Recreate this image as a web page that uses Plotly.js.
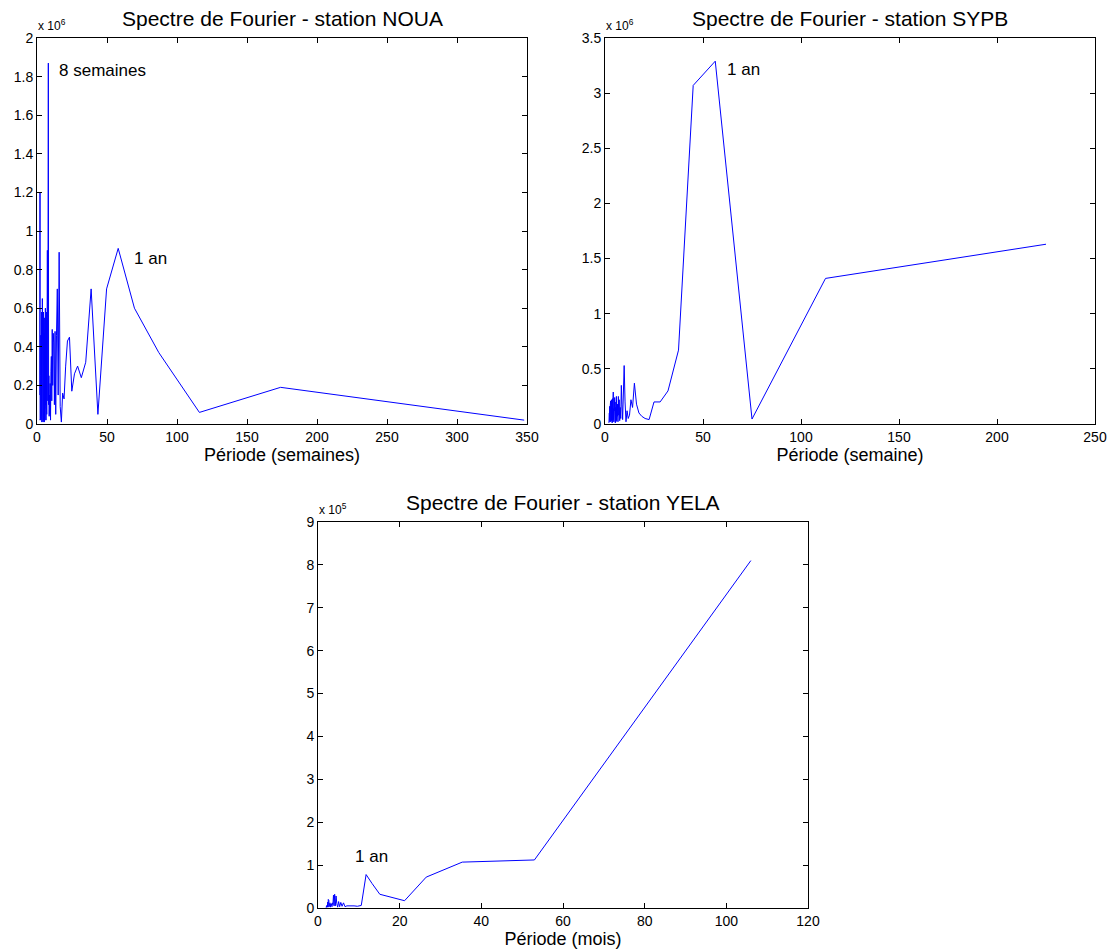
<!DOCTYPE html>
<html>
<head>
<meta charset="utf-8">
<script src="https://cdn.plot.ly/plotly-3.0.1.min.js"></script>
<style>html,body{margin:0;padding:0;background:#fff}#chart{width:1110px;height:952px}</style>
</head>
<body>
<div id="chart"></div>
<script>
// NOUA: period (weeks) and amplitude (x 1e6)
const nouaPeriod = [348,174,116,87,69.6,58,49.71,43.5,38.67,34.8,31.64,29,26.77,24.86,23.2,21.75,20.47,19.33,18.32,17.4,16.57,15.82,15.13,14.5,13.92,13.38,12.89,12.43,12,11.6,11.23,10.88,10.55,10.24,9.94,9.67,9.41,9.16,8.92,8.7,8.49,8.29,8.09,7.91,7.73,7.57,7.4,7.25,7.1,6.96,6.82,6.69,6.57,6.44,6.33,6.21,6.11,6.0,5.9,5.8,
  5.75,5.7,5.65,5.6,5.55,5.5,5.44,5.38,5.32,5.26,5.2,5.14,5.08,5.02,4.96,4.9,4.84,4.78,4.72,4.66,4.6,4.54,4.48,4.42,4.36,4.3,4.24,4.18,4.12,4.06,4.0,3.94,3.88,3.82,3.76,3.7,3.64,3.58,3.52,3.46,3.4,3.34,3.28,3.22,3.16,3.1,3.04,2.98,2.92,2.86,2.8,2.74,2.68,2.62,2.56,2.5,2.44,2.38,2.32,2.26,2.2,2.14,2.08,2.02];
const nouaAmp = [0.02,0.19,0.06,0.37,0.60,0.91,0.70,0.05,0.70,0.32,0.24,0.30,0.26,0.17,0.45,0.43,0.30,0.13,0.16,0.01,0.09,0.89,0.15,0.70,0.46,0.05,0.48,0.10,0.42,0.47,0.20,0.49,0.12,0.35,0.27,0.02,0.21,0.05,0.15,0.04,0.25,0.10,1.87,0.30,0.12,0.55,0.90,0.20,0.48,0.05,0.58,0.15,0.40,0.02,0.35,0.25,0.10,0.60,0.03,0.30,
  0.05,0.42,0.02,0.30,0.08,0.55,0.03,0.25,0.12,0.38,0.01,0.33,0.06,0.47,0.10,0.22,0.02,0.35,0.15,0.58,0.04,0.28,0.09,0.40,0.01,0.31,0.18,0.49,0.03,0.26,0.07,0.36,0.12,0.65,0.02,0.30,0.06,0.44,0.15,0.24,0.01,0.38,0.08,0.58,0.04,0.28,0.11,0.45,0.02,0.34,0.07,0.46,0.14,0.25,0.03,0.90,0.05,0.33,0.09,0.58,0.02,1.20,0.06,0.15];

// SYPB: period (weeks) and amplitude (x 1e6)
const sypbPeriod = [225,112.5,75,56.25,45,37.5,32.14,28.13,25,22.5,20.45,18.75,17.31,16.07,15,14.06,13.24,12.5,11.84,11.25,10.71,10.23,9.78,9.38,9.0,8.65,8.33,8.04,7.76,7.5,7.26,7.03,6.82,6.62,6.43,6.25,6.08,
  5.9,5.82,5.74,5.66,5.58,5.5,5.42,5.34,5.26,5.18,5.1,5.02,4.94,4.86,4.78,4.7,4.62,4.54,4.46,4.38,4.3,4.22,4.14,4.06,3.98,3.9,3.82,3.74,3.66,3.58,3.5,3.42,3.34,3.26,3.18,3.1,3.02,2.94,2.86,2.78,2.7,2.62,2.54,2.46,2.38,2.3,2.22,2.14,2.06,2.0];
const sypbAmp = [1.63,1.32,0.045,3.29,3.07,0.67,0.30,0.20,0.20,0.04,0.05,0.07,0.10,0.18,0.37,0.15,0.22,0.08,0.05,0.12,0.02,0.20,0.53,0.10,0.04,0.18,0.35,0.05,0.15,0.03,0.22,0.08,0.25,0.02,0.18,0.07,0.12,
  0.03,0.25,0.06,0.18,0.02,0.22,0.09,0.15,0.01,0.20,0.05,0.12,0.24,0.03,0.17,0.08,0.21,0.02,0.14,0.27,0.04,0.29,0.10,0.19,0.02,0.23,0.07,0.16,0.01,0.20,0.06,0.13,0.22,0.03,0.18,0.09,0.15,0.02,0.21,0.05,0.17,0.08,0.12,0.02,0.16,0.04,0.10,0.02,0.07,0.01];

// YELA: period (months) and amplitude (x 1e5)
const yelaPeriod = [106,53,35.33,26.5,21.2,17.67,15.14,13.25,11.78,10.6,9.64,8.83,8.15,7.57,7.07,6.63,6.24,5.89,5.58,5.3,5.05,4.82,4.61,4.42,4.24,4.08,3.93,3.79,3.66,3.53,3.42,3.31,3.21,3.12,3.03,2.94,2.86,2.79,2.72,2.65,2.59,2.52,2.47,2.41,2.36,2.3,2.26,2.21,2.16,2.12,2.08,2.04,2.0];
const yelaAmp = [8.1,1.12,1.07,0.72,0.17,0.25,0.32,0.57,0.78,0.06,0.04,0.05,0.05,0.04,0.05,0.03,0.12,0.04,0.13,0.03,0.15,0.02,0.10,0.28,0.05,0.32,0.05,0.30,0.08,0.12,0.03,0.10,0.06,0.09,0.02,0.12,0.04,0.08,0.03,0.18,0.05,0.20,0.02,0.14,0.05,0.10,0.02,0.06,0.03,0.05,0.02,0.03,0.01];

const titles = ['Spectre de Fourier - station NOUA','Spectre de Fourier - station SYPB','Spectre de Fourier - station YELA'];
const xLabels = ['Période (semaines)','Période (semaine)','Période (mois)'];
const exponents = ['x 10<sup>6</sup>','x 10<sup>6</sup>','x 10<sup>5</sup>'];
const peakLabels = ['8 semaines','1 an','1 an','1 an'];

const W = 1110, H = 952;
const boxes = [ // pixel boxes [left, top, right, bottom]
  [37, 38, 527, 424],
  [605, 38, 1095, 424],
  [318, 522, 808, 908]
];
const xRanges = [[0,350],[0,250],[0,120]];
const yRanges = [[0,2],[0,3.5],[0,9]];
const xDticks = [50,50,20];
const yDticks = [0.2,0.5,1];

const FONT = 'Liberation Sans, Arial, sans-serif';
const series = [[nouaPeriod,nouaAmp],[sypbPeriod,sypbAmp],[yelaPeriod,yelaAmp]];
const traces = series.map((s,i)=>({
  x: s[0], y: s[1], type:'scatter', mode:'lines',
  xaxis: i===0?'x':'x'+(i+1), yaxis: i===0?'y':'y'+(i+1),
  line:{color:'#0000ff', width:1}, hoverinfo:'x+y', showlegend:false
}));

const layout = {
  width: W, height: H, margin:{l:0,r:0,t:0,b:0},
  paper_bgcolor:'#fff', plot_bgcolor:'#fff', showlegend:false,
  font:{family:FONT, size:14, color:'#000'},
  annotations: []
};
boxes.forEach((b,i)=>{
  const sx = i===0?'':String(i+1);
  const xa = {
    domain:[b[0]/W, b[2]/W], range:xRanges[i], dtick:xDticks[i], tick0:0,
    anchor:'y'+sx, showgrid:false, zeroline:false, showline:true, linecolor:'#000', linewidth:1,
    mirror:'ticks', ticks:'inside', ticklen:5, tickcolor:'#000',
    tickfont:{family:FONT,size:14,color:'#000'},
    title:{text:xLabels[i], font:{family:FONT,size:18,color:'#000'}, standoff:4}
  };
  const ya = {
    domain:[1-b[3]/H, 1-b[1]/H], range:yRanges[i], dtick:yDticks[i], tick0:0,
    anchor:'x'+sx, showgrid:false, zeroline:false, showline:true, linecolor:'#000', linewidth:1,
    mirror:'ticks', ticks:'inside', ticklen:5, tickcolor:'#000',
    tickfont:{family:FONT,size:14,color:'#000'}
  };
  layout['xaxis'+sx] = xa;
  layout['yaxis'+sx] = ya;
  layout.annotations.push({
    xref:'paper', yref:'paper', x:(b[0]+b[2])/2/W, y:1-(b[1]-6)/H,
    xanchor:'center', yanchor:'bottom', showarrow:false,
    text:titles[i], font:{family:FONT,size:21,color:'#000'}
  });
  layout.annotations.push({
    xref:'paper', yref:'paper', x:(b[0]-1)/W, y:1-(b[1]-3)/H,
    xanchor:'left', yanchor:'bottom', showarrow:false,
    text:exponents[i], font:{family:FONT,size:12,color:'#000'}
  });
});
// peak labels (data coordinates)
layout.annotations.push({xref:'x',yref:'y',x:14,y:1.83,xanchor:'left',yanchor:'middle',showarrow:false,text:peakLabels[0],font:{family:FONT,size:17,color:'#000'}});
layout.annotations.push({xref:'x',yref:'y',x:68,y:0.855,xanchor:'left',yanchor:'middle',showarrow:false,text:peakLabels[1],font:{family:FONT,size:17,color:'#000'}});
layout.annotations.push({xref:'x2',yref:'y2',x:61,y:3.21,xanchor:'left',yanchor:'middle',showarrow:false,text:peakLabels[2],font:{family:FONT,size:17,color:'#000'}});
layout.annotations.push({xref:'x3',yref:'y3',x:8.5,y:1.19,xanchor:'left',yanchor:'middle',showarrow:false,text:peakLabels[3],font:{family:FONT,size:17,color:'#000'}});

Plotly.newPlot('chart', traces, layout, {displayModeBar:false, staticPlot:true});
</script>
</body>
</html>
